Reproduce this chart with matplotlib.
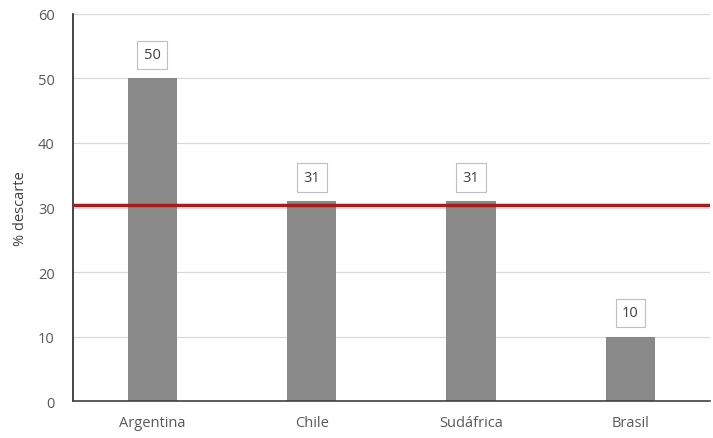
import matplotlib.pyplot as plt

categories = ['Argentina', 'Chile', 'Sudáfrica', 'Brasil']
values = [50, 31, 31, 10]
reference = 30.4

plt.rcParams['font.family'] = ['Open Sans', 'DejaVu Sans']

fig = plt.figure(figsize=(7.13, 4.39), dpi=100)
ax = fig.add_axes([0.102, 0.084, 0.894, 0.882])

x = range(len(categories))
bars = ax.bar(x, values, width=0.31, color='#898989', zorder=2)
ax.axhline(reference, color='#b81414', linewidth=2.5, zorder=3)

for xi, v in zip(x, values):
    ax.annotate(str(v), (xi, v), xytext=(0, 17), textcoords='offset points',
                ha='center', va='center', fontsize=10.5, color='#404040',
                bbox=dict(boxstyle='square,pad=0.45', fc='white', ec='#bfbfbf', lw=0.8),
                zorder=4)

ax.set_xlim(-0.5, len(categories) - 0.5)
ax.set_ylim(0, 60)
ax.set_yticks(range(0, 61, 10))
ax.set_xticks(list(x))
ax.set_xticklabels(categories)
ax.set_ylabel('% descarte', fontsize=10.5, color='#404040', labelpad=7)
ax.grid(axis='y', color='#d9d9d9', linewidth=0.9, zorder=0)
ax.tick_params(axis='both', length=0, labelsize=10.5, colors='#595959')
ax.tick_params(axis='y', pad=13)
ax.tick_params(axis='x', pad=10)
for s in ['top', 'right']:
    ax.spines[s].set_visible(False)
ax.spines['left'].set_color('#262626')
ax.spines['bottom'].set_color('#404040')
ax.spines['left'].set_linewidth(1.2)
ax.spines['bottom'].set_linewidth(1.2)

fig.savefig('out.png', dpi=100)
